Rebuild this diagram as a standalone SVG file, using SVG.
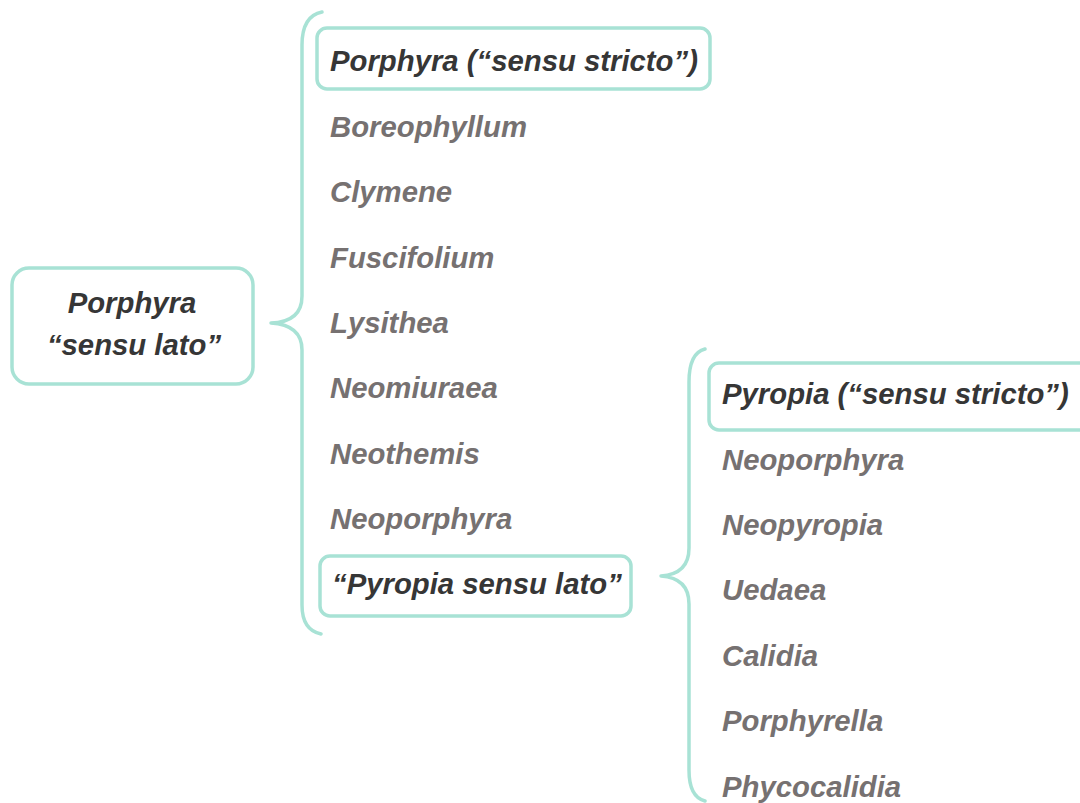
<svg xmlns="http://www.w3.org/2000/svg" width="1080" height="803" viewBox="0 0 1080 803">
<style>
.box{fill:#fff;stroke:#a8e2d5;stroke-width:3.5}
.br{fill:none;stroke:#a8e2d5;stroke-width:3.5;stroke-linecap:round;stroke-linejoin:round}
.t{font-family:"Liberation Sans",Arial,sans-serif;font-size:29.3px;font-weight:bold;font-style:italic}
.d{fill:#363636}
.g{fill:#767171}
</style>
<rect width="1080" height="803" fill="#fff"/>
<g id="connectors">
<path class="br" d="M322,12 Q302,16 302,45 V296 Q302,322 271,323 Q302,325 302,350 V605 Q302,630 321,634"/>
<path class="br" d="M705,349 Q689,353 689,382 V548 Q689,574 661,576 Q689,578 689,604 V770 Q689,797 705,801"/>
</g>
<g id="root">
<rect class="box" x="12" y="268" width="241" height="116" rx="17"/>
<text class="t d" x="132" y="313" text-anchor="middle">Porphyra</text>
<text class="t d" x="134" y="355" text-anchor="middle">“sensu lato”</text>
</g>
<g id="porphyra-ss">
<rect class="box" x="317" y="28" width="393" height="61" rx="10"/>
<text class="t d" x="330" y="71">Porphyra (“sensu stricto”)</text>
</g>
<g id="boreophyllum"><text class="t g" x="330" y="137">Boreophyllum</text></g>
<g id="clymene"><text class="t g" x="330" y="202">Clymene</text></g>
<g id="fuscifolium"><text class="t g" x="330" y="268">Fuscifolium</text></g>
<g id="lysithea"><text class="t g" x="330" y="333">Lysithea</text></g>
<g id="neomiuraea"><text class="t g" x="330" y="398">Neomiuraea</text></g>
<g id="neothemis"><text class="t g" x="330" y="464">Neothemis</text></g>
<g id="neoporphyra1"><text class="t g" x="330" y="529">Neoporphyra</text></g>
<g id="pyropia-sl">
<rect class="box" x="320" y="556" width="311" height="60" rx="10"/>
<text class="t d" x="332" y="594">“Pyropia sensu lato”</text>
</g>
<g id="pyropia-ss">
<rect class="box" x="709" y="363" width="400" height="67" rx="10"/>
<text class="t d" x="722" y="404">Pyropia (“sensu stricto”)</text>
</g>
<g id="neoporphyra2"><text class="t g" x="722" y="470">Neoporphyra</text></g>
<g id="neopyropia"><text class="t g" x="722" y="535">Neopyropia</text></g>
<g id="uedaea"><text class="t g" x="722" y="600">Uedaea</text></g>
<g id="calidia"><text class="t g" x="722" y="666">Calidia</text></g>
<g id="porphyrella"><text class="t g" x="722" y="731">Porphyrella</text></g>
<g id="phycocalidia"><text class="t g" x="722" y="797">Phycocalidia</text></g>
</svg>
